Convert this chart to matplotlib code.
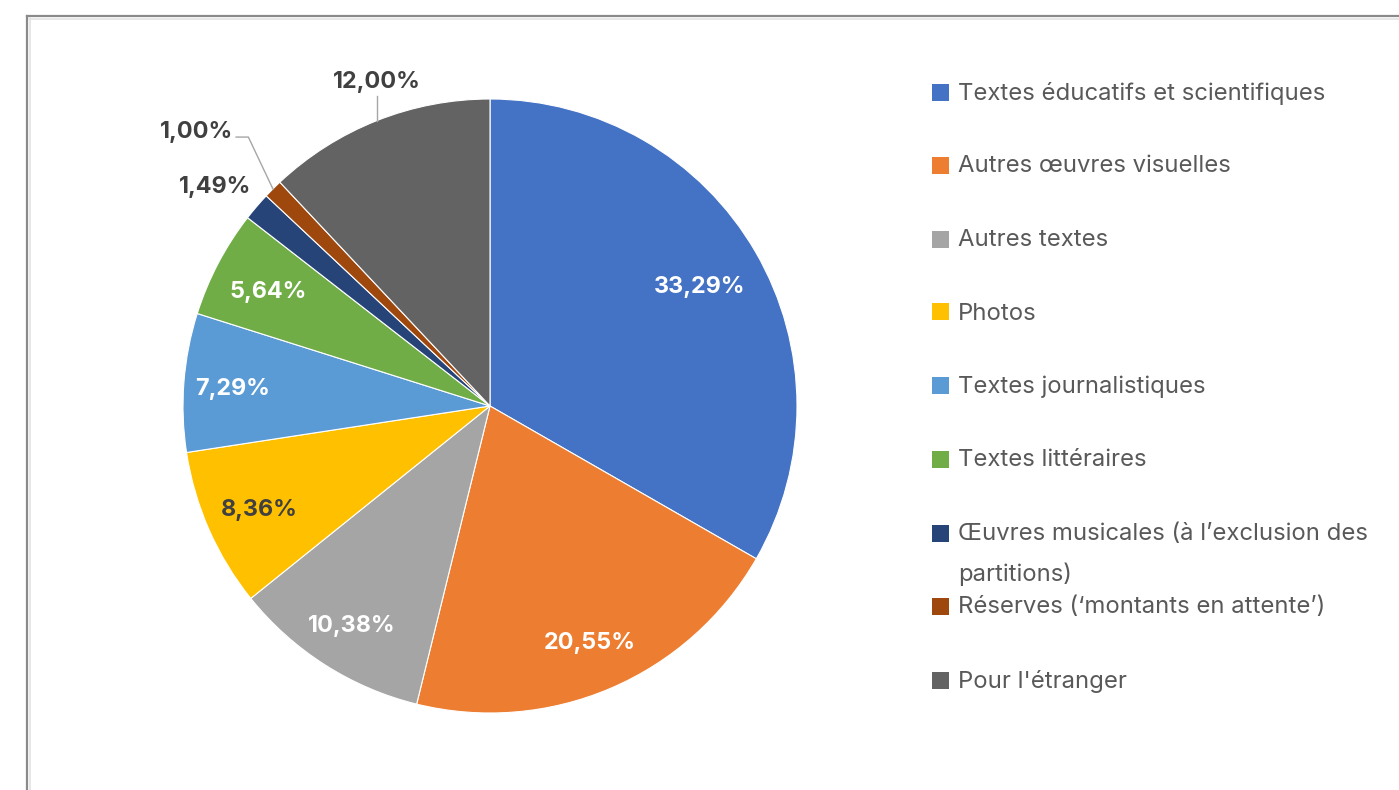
import numpy as np
import matplotlib
matplotlib.use("Agg")
import matplotlib.pyplot as plt
from matplotlib.patches import Rectangle
from matplotlib.lines import Line2D

# répartition des montants par catégorie (%)
categories = [
    "Textes éducatifs et scientifiques",
    "Autres œuvres visuelles",
    "Autres textes",
    "Photos",
    "Textes journalistiques",
    "Textes littéraires",
    "Œuvres musicales (à l\u2019exclusion des\npartitions)",
    "Réserves (\u2018montants en attente\u2019)",
    "Pour l'étranger",
]
values = [33.29, 20.55, 10.38, 8.36, 7.29, 5.64, 1.49, 1.00, 12.00]
colors = ["#4472C4", "#ED7D31", "#A5A5A5", "#FFC000", "#5B9BD5",
          "#70AD47", "#264478", "#9E480E", "#636363"]
label_colors = ["white", "white", "white", "#404040", "white",
                "white", "#404040", "#404040", "#404040"]

W, H = 1399, 790
fig = plt.figure(figsize=(W / 100, H / 100), dpi=100)

def fx(px):
    return px / W

def fy(py):
    return 1 - py / H

# cadre du graphique
frame_col = "#8a8a8a"
fig.add_artist(Line2D([fx(27), fx(27)], [fy(16), 0], color=frame_col, lw=1.6))
fig.add_artist(Line2D([fx(27), 1], [fy(16), fy(16)], color=frame_col, lw=1.6))
fig.add_artist(Line2D([fx(29.5), fx(29.5)], [fy(18), 0], color="#e3e3e3", lw=1.2))
fig.add_artist(Line2D([fx(29), 1], [fy(18.5), fy(18.5)], color="#e3e3e3", lw=1.2))

# camembert : centre (490, 406), rayon 307 px
R = 307
half = 400
ax = fig.add_axes([fx(490 - half), fy(406 + half), 2 * half / W, 2 * half / H])
ax.axis("off")

wedges, _ = ax.pie(values, colors=colors, startangle=90, counterclock=False,
                   radius=1, wedgeprops=dict(edgecolor="white", linewidth=0.8))
ax.set_xlim(-half / R, half / R)
ax.set_ylim(-half / R, half / R)
ax.set_aspect("equal")

lab_font = dict(family=["Inter", "DejaVu Sans"], fontsize=16.8, fontweight="bold")
dist = [0.79, 0.83, 0.84, 0.82, 0.84, 0.815, 1.15, 1.33, 1.15]
for i, (w, v) in enumerate(zip(wedges, values)):
    mid = np.deg2rad((w.theta1 + w.theta2) / 2)
    txt = f"{v:.2f}%".replace(".", ",")
    if i == 6:
        x, y = 1.15 * np.cos(mid + 0.03), 1.15 * np.sin(mid + 0.03)
    elif i == 7:
        ex, ey = np.cos(mid), np.sin(mid)
        bx, by = ex - 0.08, 0.876
        ax.plot([ex, bx, bx - 0.04], [ey, by, by], color="#a6a6a6", lw=1.0)
        x, y = bx - 0.04 - 0.13, by + 0.025
    elif i == 8:
        ex, ey = np.cos(mid), np.sin(mid)
        ax.plot([ex, ex], [ey, 1.01], color="#a6a6a6", lw=1.0)
        x, y = ex, 1.065
    else:
        x, y = dist[i] * np.cos(mid), dist[i] * np.sin(mid)
    ax.text(x, y, txt, ha="center", va="center_baseline", color=label_colors[i],
            **lab_font)

# légende
leg_rows = [92, 165, 239, 312, 385, 459, 533, 606, 680]
for cat, col, yy in zip(categories, colors, leg_rows):
    fig.add_artist(Rectangle((fx(932), fy(yy + 8.5)), 17 / W, 17 / H,
                             facecolor=col, edgecolor="none"))
    multi = "\n" in cat
    fig.text(fx(958), fy(yy - 10) if multi else fy(yy + 1.5), cat, ha="left",
             va="top" if multi else "center",
             color="#595959", family=["Inter", "DejaVu Sans"], fontsize=17.2,
             linespacing=1.95)

fig.savefig("out.png", dpi=100)
